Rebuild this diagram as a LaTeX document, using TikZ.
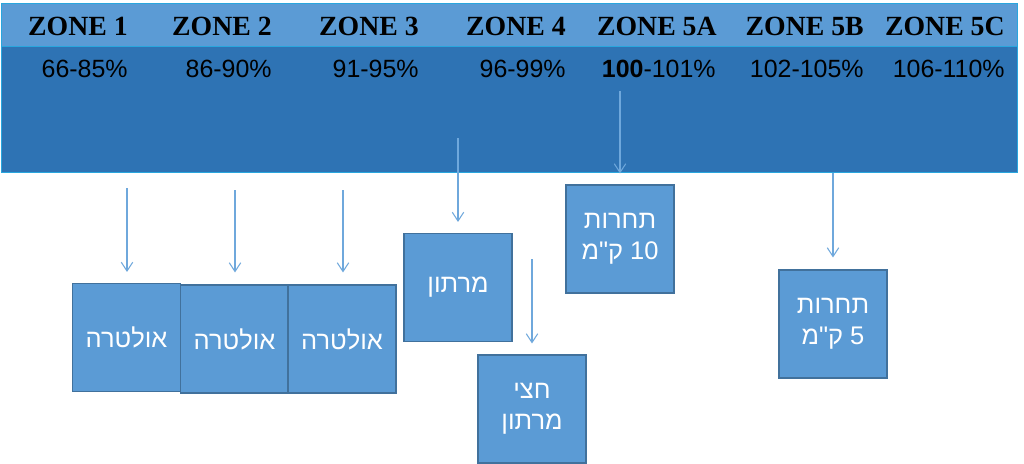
\documentclass[tikz,border=0pt]{standalone}
\usepackage{fontspec}
\setmainfont{Liberation Serif}
\newfontfamily\hebfont[Script=Hebrew,Ligatures=TeXOff]{Liberation Sans}
\newfontfamily\pctfont{Liberation Sans}
\TeXXeTstate=1
\usetikzlibrary{arrows.meta}
\definecolor{lightband}{HTML}{5B9BD5}
\definecolor{darkband}{HTML}{2E73B4}
\definecolor{hdrline}{HTML}{29A6DE}
\definecolor{boxfill}{HTML}{5B9BD5}
\definecolor{boxline}{HTML}{41719C}
\definecolor{arrowc}{HTML}{6FA8DC}
\tikzset{
  zonelbl/.style={anchor=base east, inner sep=0pt, font=\bfseries\fontsize{15.8}{18}\selectfont, text=black},
  pctlbl/.style={anchor=base east, inner sep=0pt, font=\pctfont\fontsize{14.2}{17}\selectfont, text=black},
  zonebox/.style={draw=boxline, line width=0.6pt, fill=boxfill, text=white, align=center,
    minimum width=2.16cm, minimum height=2.16cm, inner sep=2pt,
    font=\hebfont\fontsize{14.5}{17.5}\selectfont},
  arr/.style={draw=arrowc, line width=0.6pt, -{Straight Barb[length=5pt,width=6.5pt]}},
}
\begin{document}
\begin{tikzpicture}[x=0.02cm,y=-0.02cm]
\useasboundingbox (0,0) rectangle (1024,463);
\fill[white] (0,0) rectangle (1024,463);
% header table
\node[draw=hdrline, line width=0.8pt, fill=darkband, anchor=north west, inner sep=0pt,
  minimum width=20.32cm, minimum height=2.52cm] (dark) at (1,46) {};
\node[draw=hdrline, line width=0.8pt, fill=lightband, anchor=north west, inner sep=0pt,
  minimum width=20.32cm, minimum height=0.86cm] (light) at (1,3) {};
% zone labels
\node[zonelbl] (z1) at (128,35) {ZONE 1};
\node[zonelbl] (z2) at (272,35) {ZONE 2};
\node[zonelbl] (z3) at (419,35) {ZONE 3};
\node[zonelbl] (z4) at (566,35) {ZONE 4};
\node[zonelbl] (z5a) at (717,35) {ZONE 5A};
\node[zonelbl] (z5b) at (864,35) {ZONE 5B};
\node[zonelbl] (z5c) at (1005,35) {ZONE 5C};
% percentages
\node[pctlbl] (p1) at (128,77) {66-85\%};
\node[pctlbl] (p2) at (272,77) {86-90\%};
\node[pctlbl] (p3) at (419,77) {91-95\%};
\node[pctlbl] (p4) at (566,77) {96-99\%};
\node[pctlbl] (p5a) at (716,77) {\textbf{100}-101\%};
\node[pctlbl] (p5b) at (864,77) {102-105\%};
\node[pctlbl] (p5c) at (1005,77) {106-110\%};
% boxes
\node[zonebox] (b1) at (126.5,337.5) {\beginR אולטרה\endR};
\node[zonebox] (b2) at (234.5,339) {\beginR אולטרה\endR};
\node[zonebox] (b3) at (342,339) {\beginR אולטרה\endR};
\node[zonebox] (mar) at (458,287.5) {\beginR מרתון\endR};
\node[zonebox] (half) at (532,409) {\beginR חצי\endR\\\beginR מרתון\endR};
\node[zonebox] (k10) at (620,239) {\beginR תחרות\endR\\\beginR 10 ק"מ\endR};
\node[zonebox] (k5) at (833,324) {\beginR תחרות\endR\\\beginR 5 ק"מ\endR};
% arrow starts
\coordinate (s1) at (127,188);
\coordinate (s2) at (235,190);
\coordinate (s3) at (343,190);
\coordinate (smar) at (458,138);
\coordinate (shalf) at (532,259);
\coordinate (sk10) at (620,91);
\coordinate (sk5) at (833,173);
% arrows
\draw[arr, shorten >=0.22cm] (s1) -- (s1 |- b1.north);
\draw[arr, shorten >=0.24cm] (s2) -- (s2 |- b2.north);
\draw[arr, shorten >=0.24cm] (s3) -- (s3 |- b3.north);
\draw[arr, shorten >=0.22cm] (smar) -- (smar |- mar.north);
\draw[arr, shorten >=0.22cm] (shalf) -- (shalf |- half.north);
\draw[arr, shorten >=0.22cm] (sk10) -- (sk10 |- k10.north);
\draw[arr, shorten >=0.24cm] (sk5) -- (sk5 |- k5.north);
\end{tikzpicture}
\end{document}
